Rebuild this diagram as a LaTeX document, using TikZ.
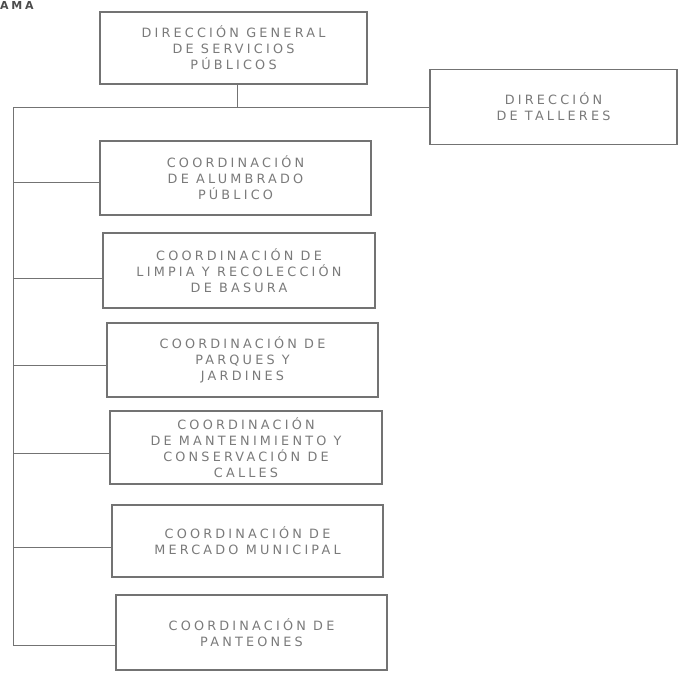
\documentclass[tikz,border=0pt]{standalone}
\usepackage{fontspec}
\setmainfont{DejaVu Sans}
\newfontfamily\boxfont[LetterSpace=25]{DejaVu Sans}
\definecolor{linegray}{gray}{0.45}
\definecolor{textgray}{gray}{0.48}
\tikzset{
  orgbox/.style={draw=linegray, line width=1.1pt, rectangle, inner sep=0pt,
    align=center, text=textgray, font=\boxfont\fontsize{12.8}{16}\selectfont},
  link/.style={draw=linegray, line width=1pt}
}
\begin{document}
\begin{tikzpicture}[x=1pt,y=-1pt]
\useasboundingbox (0,0) rectangle (679,675);
\fill[white] (0,0) rectangle (679,675);
% title (cut at the top in the reference)
\node[anchor=base west, inner sep=0pt, text=black!70, font=\boxfont\bfseries\fontsize{11}{12}\selectfont] (title) at (0,9) {AMA};
% boxes
\node[orgbox, minimum width=267pt, minimum height=72pt] (top) at (233.5,48) {DIRECCIÓN GENERAL\\DE SERVICIOS\\PÚBLICOS};
\node[orgbox, minimum width=247pt, minimum height=75pt] (tall) at (553.5,107) {DIRECCIÓN\\DE TALLERES};
\node[orgbox, minimum width=271pt, minimum height=74pt] (alum) at (235.5,178) {COORDINACIÓN\\DE ALUMBRADO\\PÚBLICO};
\node[orgbox, minimum width=272pt, minimum height=75pt] (limp) at (239,270.5) {COORDINACIÓN DE\\LIMPIA Y RECOLECCIÓN\\DE BASURA};
\node[orgbox, minimum width=271pt, minimum height=74pt] (parq) at (242.5,360) {COORDINACIÓN DE\\PARQUES Y\\JARDINES};
\node[orgbox, minimum width=272pt, minimum height=73pt] (mant) at (246,447.5) {COORDINACIÓN\\DE MANTENIMIENTO Y\\CONSERVACIÓN DE\\CALLES};
\node[orgbox, minimum width=271pt, minimum height=72pt] (merc) at (247.5,541) {COORDINACIÓN DE\\MERCADO MUNICIPAL};
\node[orgbox, minimum width=271pt, minimum height=75pt] (pant) at (251.5,632.5) {COORDINACIÓN DE\\PANTEONES};
% connector points
\coordinate (j) at (237,107);
\coordinate (stop) at (13,107);
\coordinate (sbot) at (13,645);
\coordinate (s1) at (13,182);
\coordinate (s2) at (13,278);
\coordinate (s3) at (13,365);
\coordinate (s4) at (13,453);
\coordinate (s5) at (13,547);
\coordinate (s6) at (13,645);
% connectors
\draw[link] (top.south -| j) -- (j);
\draw[link] (stop) -- (tall.west);
\draw[link] (stop) -- (sbot);
\draw[link] (s1) -- (s1 -| alum.west);
\draw[link] (s2) -- (s2 -| limp.west);
\draw[link] (s3) -- (s3 -| parq.west);
\draw[link] (s4) -- (s4 -| mant.west);
\draw[link] (s5) -- (s5 -| merc.west);
\draw[link] (s6) -- (s6 -| pant.west);
\end{tikzpicture}
\end{document}
